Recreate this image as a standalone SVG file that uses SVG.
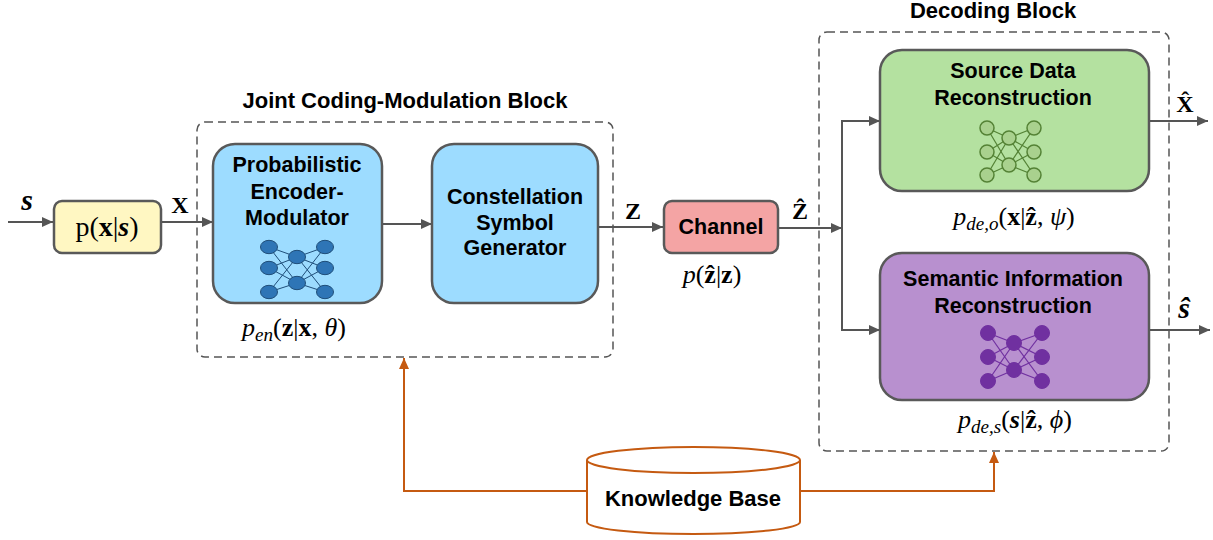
<svg xmlns="http://www.w3.org/2000/svg" width="1213" height="540" viewBox="0 0 1213 540">
<style>
.box{stroke:#595959;stroke-width:2.5}
.dash{fill:none;stroke:#555;stroke-width:1.5;stroke-dasharray:8 5}
.t{font-family:"Liberation Sans",Arial,sans-serif;font-weight:bold;font-size:21.5px;text-anchor:middle;fill:#000}
.title{font-size:22px}
.m{font-family:"Liberation Serif","DejaVu Serif",serif;font-size:26px;text-anchor:middle;fill:#000}
.i{font-style:italic}
.b{font-weight:bold}
.sub{font-style:italic;font-size:19px}
.con{fill:none;stroke:#555;stroke-width:2}
.org{fill:none;stroke:#C55A11;stroke-width:2}
.nnb line{stroke:#1F4E79;stroke-width:1}
.nnb ellipse{fill:#2E75B6;stroke:#1F4E79;stroke-width:1}
.nng line{stroke:#548235;stroke-width:1.2}
.nng circle{fill:#A9D18E;stroke:#548235;stroke-width:1.5}
.nnp line{stroke:#7030A0;stroke-width:1.2}
.nnp circle{fill:#7030A0;stroke:#7030A0;stroke-width:1}
</style>
<defs>
<marker id="ag" markerUnits="userSpaceOnUse" markerWidth="12" markerHeight="10" refX="11" refY="5" orient="auto"><path d="M0,0 L11,5 L0,10 z" fill="#555"/></marker>
<marker id="ao" markerUnits="userSpaceOnUse" markerWidth="12" markerHeight="10" refX="11" refY="5" orient="auto"><path d="M0,0 L11,5 L0,10 z" fill="#C55A11"/></marker>
</defs>

<g id="joint-block">
<rect class="dash" x="197" y="122" width="416" height="235" rx="8"/>
<text class="t title" x="405" y="108">Joint Coding-Modulation Block</text>
</g>

<g id="decoding-block">
<rect class="dash" x="819" y="32" width="350" height="419" rx="8"/>
<text class="t title" x="993" y="18">Decoding Block</text>
</g>

<g id="connectors">
<line class="con" x1="8" y1="222" x2="53" y2="222" marker-end="url(#ag)"/>
<line class="con" x1="161" y1="222" x2="213" y2="222" marker-end="url(#ag)"/>
<line class="con" x1="382" y1="224" x2="432" y2="224" marker-end="url(#ag)"/>
<line class="con" x1="598" y1="227" x2="663" y2="227" marker-end="url(#ag)"/>
<line class="con" x1="778" y1="228" x2="842" y2="228" marker-end="url(#ag)"/>
<line class="con" x1="842" y1="120" x2="842" y2="331"/>
<line class="con" x1="841" y1="121" x2="880" y2="121" marker-end="url(#ag)"/>
<line class="con" x1="841" y1="330" x2="880" y2="330" marker-end="url(#ag)"/>
<line class="con" x1="1149" y1="121" x2="1208" y2="121" marker-end="url(#ag)"/>
<line class="con" x1="1149" y1="330" x2="1210" y2="330" marker-end="url(#ag)"/>
<polyline class="org" points="587,491 404,491 404,358" marker-end="url(#ao)"/>
<polyline class="org" points="800,491 994,491 994,452" marker-end="url(#ao)"/>
</g>

<g id="labels">
<text class="m b i" x="27" y="210" style="font-size:30px">s</text>
<text class="m b" x="180" y="213" style="font-size:24px">X</text>
<text class="m b" x="633" y="219" style="font-size:24px">Z</text>
<text class="m b" x="800" y="219" style="font-size:24px">Ẑ</text>
<text class="m b" x="1185" y="112" style="font-size:24px">X̂</text>
<text class="m b i" x="1184" y="318" style="font-size:30px">ŝ</text>
</g>

<g id="pxs">
<rect class="box" x="54" y="201" width="107" height="52" rx="8" fill="#FFF7C2"/>
<text class="m" x="107" y="236" style="font-size:28px">p(<tspan class="b">x</tspan>|<tspan class="b i">s</tspan>)</text>
</g>

<g id="encoder">
<rect class="box" x="213" y="144" width="169" height="159" rx="22" fill="#9DDCFF"/>
<text class="t" x="297" y="172">Probabilistic</text>
<text class="t" x="297" y="199">Encoder-</text>
<text class="t" x="297" y="225">Modulator</text>
<g class="nnb">
<line x1="269" y1="247" x2="297" y2="257"/><line x1="269" y1="247" x2="297" y2="283"/>
<line x1="269" y1="268" x2="297" y2="257"/><line x1="269" y1="268" x2="297" y2="283"/>
<line x1="269" y1="292" x2="297" y2="257"/><line x1="269" y1="292" x2="297" y2="283"/>
<line x1="325" y1="247" x2="297" y2="257"/><line x1="325" y1="247" x2="297" y2="283"/>
<line x1="325" y1="268" x2="297" y2="257"/><line x1="325" y1="268" x2="297" y2="283"/>
<line x1="325" y1="292" x2="297" y2="257"/><line x1="325" y1="292" x2="297" y2="283"/>
<ellipse cx="269" cy="247" rx="8.5" ry="6.7"/><ellipse cx="269" cy="268" rx="8.5" ry="6.7"/><ellipse cx="269" cy="292" rx="8.5" ry="6.7"/>
<ellipse cx="297" cy="257" rx="8.5" ry="6.7"/><ellipse cx="297" cy="283" rx="8.5" ry="6.7"/>
<ellipse cx="325" cy="247" rx="8.5" ry="6.7"/><ellipse cx="325" cy="268" rx="8.5" ry="6.7"/><ellipse cx="325" cy="292" rx="8.5" ry="6.7"/>
</g>
<text class="m" x="294" y="336"><tspan class="i">p</tspan><tspan class="sub" dy="5">en</tspan><tspan dy="-5">(</tspan><tspan class="b">z</tspan>|<tspan class="b">x</tspan>, <tspan class="i">θ</tspan>)</text>
</g>

<g id="constellation">
<rect class="box" x="432" y="144" width="166" height="159" rx="22" fill="#9DDCFF"/>
<text class="t" x="515" y="204">Constellation</text>
<text class="t" x="515" y="230">Symbol</text>
<text class="t" x="515" y="255">Generator</text>
</g>

<g id="channel">
<rect class="box" x="664" y="201" width="114" height="52" rx="8" fill="#F4A4A4"/>
<text class="t" x="721" y="234">Channel</text>
<text class="m" x="712" y="283"><tspan class="i">p</tspan>(<tspan class="b">ẑ</tspan>|<tspan class="b">z</tspan>)</text>
</g>

<g id="source-recon">
<rect class="box" x="880" y="50" width="269" height="141" rx="22" fill="#B4E1A0"/>
<text class="t" x="1013" y="78">Source Data</text>
<text class="t" x="1013" y="105">Reconstruction</text>
<g class="nng">
<line x1="987" y1="128" x2="1009" y2="138"/><line x1="987" y1="128" x2="1009" y2="165"/>
<line x1="987" y1="152" x2="1009" y2="138"/><line x1="987" y1="152" x2="1009" y2="165"/>
<line x1="987" y1="175" x2="1009" y2="138"/><line x1="987" y1="175" x2="1009" y2="165"/>
<line x1="1034" y1="128" x2="1009" y2="138"/><line x1="1034" y1="128" x2="1009" y2="165"/>
<line x1="1034" y1="152" x2="1009" y2="138"/><line x1="1034" y1="152" x2="1009" y2="165"/>
<line x1="1034" y1="175" x2="1009" y2="138"/><line x1="1034" y1="175" x2="1009" y2="165"/>
<circle cx="987" cy="128" r="7"/><circle cx="987" cy="152" r="7"/><circle cx="987" cy="175" r="7"/>
<circle cx="1009" cy="138" r="7"/><circle cx="1009" cy="165" r="7"/>
<circle cx="1034" cy="128" r="7"/><circle cx="1034" cy="152" r="7"/><circle cx="1034" cy="175" r="7"/>
</g>
<text class="m" x="1014" y="225"><tspan class="i">p</tspan><tspan class="sub" dy="5">de,o</tspan><tspan dy="-5">(</tspan><tspan class="b">x</tspan>|<tspan class="b">ẑ</tspan>, <tspan class="i">ψ</tspan>)</text>
</g>

<g id="semantic-recon">
<rect class="box" x="880" y="253" width="269" height="147" rx="22" fill="#B890CF"/>
<text class="t" x="1013" y="286">Semantic Information</text>
<text class="t" x="1013" y="313">Reconstruction</text>
<g class="nnp">
<line x1="988" y1="333" x2="1014" y2="343"/><line x1="988" y1="333" x2="1014" y2="370"/>
<line x1="988" y1="357" x2="1014" y2="343"/><line x1="988" y1="357" x2="1014" y2="370"/>
<line x1="988" y1="381" x2="1014" y2="343"/><line x1="988" y1="381" x2="1014" y2="370"/>
<line x1="1042" y1="333" x2="1014" y2="343"/><line x1="1042" y1="333" x2="1014" y2="370"/>
<line x1="1042" y1="357" x2="1014" y2="343"/><line x1="1042" y1="357" x2="1014" y2="370"/>
<line x1="1042" y1="381" x2="1014" y2="343"/><line x1="1042" y1="381" x2="1014" y2="370"/>
<circle cx="988" cy="333" r="7.5"/><circle cx="988" cy="357" r="7.5"/><circle cx="988" cy="381" r="7.5"/>
<circle cx="1014" cy="343" r="7.5"/><circle cx="1014" cy="370" r="7.5"/>
<circle cx="1042" cy="333" r="7.5"/><circle cx="1042" cy="357" r="7.5"/><circle cx="1042" cy="381" r="7.5"/>
</g>
<text class="m" x="1015" y="428"><tspan class="i">p</tspan><tspan class="sub" dy="5">de,s</tspan><tspan dy="-5">(</tspan><tspan class="b i">s</tspan>|<tspan class="b">ẑ</tspan>, <tspan class="i">ϕ</tspan>)</text>
</g>

<g id="knowledge-base">
<path d="M587,460 V522 A106.5,12 0 0 0 800,522 V460" fill="#fff" stroke="#C55A11" stroke-width="2"/>
<ellipse cx="693.5" cy="460" rx="106.5" ry="13" fill="#fff" stroke="#C55A11" stroke-width="2"/>
<text class="t" x="693" y="506" style="font-size:22px">Knowledge Base</text>
</g>
</svg>
